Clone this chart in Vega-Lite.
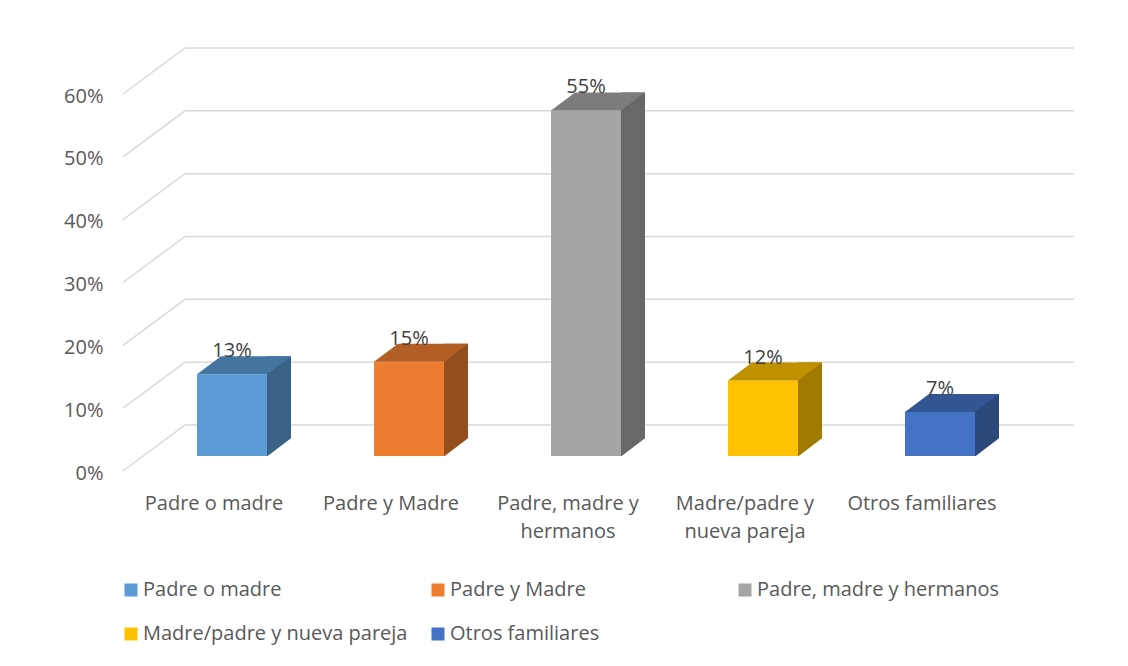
{
  "$schema": "https://vega.github.io/schema/vega-lite/v6.json",
  "autosize": {"type": "none"},
  "width": 950,
  "height": 377,
  "padding": {"left": 124, "top": 94, "right": 54, "bottom": 195},
  "background": "#ffffff",
  "config": {
    "view": {"stroke": null},
    "font": "Open Sans",
    "text": {"font": "Open Sans"}
  },
  "datasets": {
    "familia": [
      {"categoria": "Padre o madre", "porcentaje": 0.13},
      {"categoria": "Padre y Madre", "porcentaje": 0.15},
      {"categoria": "Padre, madre y hermanos", "porcentaje": 0.55},
      {"categoria": "Madre/padre y nueva pareja", "porcentaje": 0.12},
      {"categoria": "Otros familiares", "porcentaje": 0.07}
    ],
    "rejilla": [
      {"nivel": 0}, {"nivel": 0.1}, {"nivel": 0.2}, {"nivel": 0.3},
      {"nivel": 0.4}, {"nivel": 0.5}, {"nivel": 0.6}
    ]
  },
  "resolve": {"scale": {"color": "independent"}},
  "layer": [
    {
      "data": {"name": "rejilla"},
      "mark": {
        "type": "point",
        "shape": "M -476 0 L -414 -46 L 475 -46",
        "size": 4,
        "filled": false,
        "stroke": "#d9d9d9",
        "strokeWidth": 1.5,
        "opacity": 1
      },
      "encoding": {
        "y": {
          "field": "nivel",
          "type": "quantitative",
          "scale": {"domain": [0, 0.6], "nice": false, "zero": true},
          "axis": {
            "values": [0, 0.1, 0.2, 0.3, 0.4, 0.5, 0.6],
            "format": ".0%",
            "title": null,
            "domain": false,
            "ticks": false,
            "tickSize": 0,
            "grid": false,
            "labelPadding": 21,
            "labelOffset": 2,
            "labelFont": "Open Sans",
            "labelFontSize": 20,
            "labelColor": "#595959"
          }
        }
      }
    },
    {
      "data": {"name": "familia"},
      "mark": {"type": "bar", "width": 24, "xOffset": 65, "yOffset": -33, "y2Offset": -15, "opacity": 1},
      "encoding": {
        "x": {
          "field": "categoria",
          "type": "nominal",
          "sort": null,
          "scale": {"paddingInner": 0, "paddingOuter": 0.1836, "align": 0.023},
          "axis": {
            "title": null,
            "domain": false,
            "ticks": false,
            "tickSize": 0,
            "labelAngle": 0,
            "labelPadding": 22,
            "labelBaseline": "top",
            "labelFont": "Open Sans",
            "labelFontSize": 20,
            "labelColor": "#595959",
            "labelLineHeight": 28,
            "labelLimit": 300,
            "labelExpr": "datum.label == 'Padre, madre y hermanos' ? ['Padre, madre y', 'hermanos'] : datum.label == 'Madre/padre y nueva pareja' ? ['Madre/padre y', 'nueva pareja'] : datum.label"
          }
        },
        "y": {"field": "porcentaje", "type": "quantitative"},
        "y2": {"datum": 0},
        "color": {
          "field": "categoria",
          "type": "nominal",
          "scale": {
            "domain": ["Padre o madre", "Padre y Madre", "Padre, madre y hermanos", "Madre/padre y nueva pareja", "Otros familiares"],
            "range": ["#396286", "#954F1F", "#686868", "#A17900", "#2B487B"]
          },
          "legend": null
        }
      }
    },
    {
      "data": {"name": "familia"},
      "mark": {
        "type": "point",
        "shape": "M 35 0.5 L 60 0.5 L 60 -18.5 Z",
        "size": 4,
        "filled": true,
        "fill": "#ffffff",
        "strokeWidth": 0,
        "opacity": 1,
        "xOffset": 18,
        "yOffset": -15
      },
      "encoding": {
        "x": {"field": "categoria", "type": "nominal", "sort": null},
        "y": {"datum": 0, "type": "quantitative"}
      }
    },
    {
      "data": {"name": "familia"},
      "mark": {"type": "bar", "width": 70, "xOffset": 18, "yOffset": -15, "y2Offset": -15, "opacity": 1},
      "encoding": {
        "x": {"field": "categoria", "type": "nominal", "sort": null},
        "y": {"field": "porcentaje", "type": "quantitative"},
        "y2": {"datum": 0},
        "color": {
          "field": "categoria",
          "type": "nominal",
          "scale": {
            "domain": ["Padre o madre", "Padre y Madre", "Padre, madre y hermanos", "Madre/padre y nueva pareja", "Otros familiares"],
            "range": ["#5B9BD5", "#ED7D31", "#A5A5A5", "#FFC000", "#4472C4"]
          },
          "legend": {
            "title": null,
            "orient": "none",
            "legendX": -3,
            "legendY": 486,
            "direction": "horizontal",
            "columns": 3,
            "gridAlign": "all",
            "columnPadding": 20,
            "rowPadding": 24,
            "symbolType": "square",
            "symbolSize": 169,
            "symbolStrokeWidth": 0,
            "symbolOpacity": 1,
            "labelFont": "Open Sans",
            "labelFontSize": 20,
            "labelColor": "#595959",
            "labelOffset": 2,
            "labelLimit": 400
          }
        }
      }
    },
    {
      "data": {"name": "familia"},
      "mark": {
        "type": "point",
        "shape": "M -35 0 L 35 0 L 59 -18 L -11 -18 Z",
        "size": 4,
        "filled": true,
        "strokeWidth": 0,
        "opacity": 1,
        "xOffset": 18,
        "yOffset": -15
      },
      "encoding": {
        "x": {"field": "categoria", "type": "nominal", "sort": null},
        "y": {"field": "porcentaje", "type": "quantitative"},
        "color": {
          "field": "categoria",
          "type": "nominal",
          "scale": {
            "domain": ["Padre o madre", "Padre y Madre", "Padre, madre y hermanos", "Madre/padre y nueva pareja", "Otros familiares"],
            "range": ["#4474A0", "#B25E25", "#7C7C7C", "#BF9000", "#335693"]
          },
          "legend": null
        }
      }
    },
    {
      "data": {"name": "familia"},
      "mark": {
        "type": "text",
        "font": "Open Sans",
        "fontSize": 20,
        "color": "#404040",
        "align": "center",
        "baseline": "alphabetic",
        "xOffset": 18,
        "yOffset": -32
      },
      "encoding": {
        "x": {"field": "categoria", "type": "nominal", "sort": null},
        "y": {"field": "porcentaje", "type": "quantitative"},
        "text": {"field": "porcentaje", "type": "quantitative", "format": ".0%"}
      }
    }
  ]
}
